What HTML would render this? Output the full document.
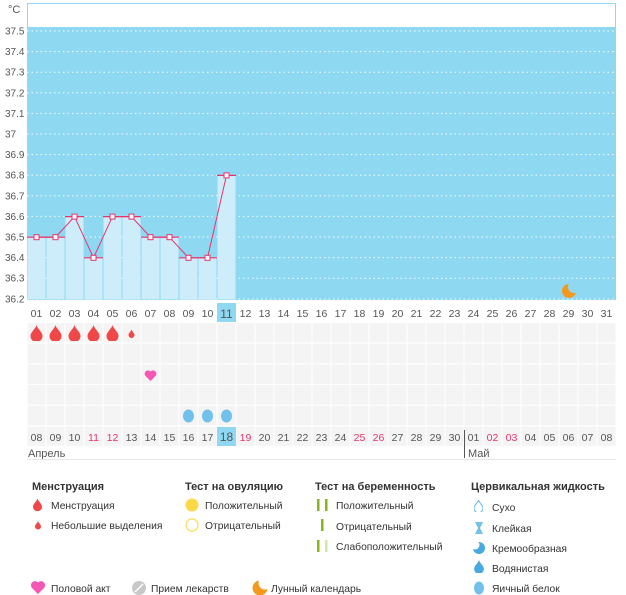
<!DOCTYPE html>
<html><head><meta charset="utf-8"><style>
body{margin:0;background:#fff;width:626px;height:595px;overflow:hidden}
svg{display:block;font-family:"Liberation Sans","DejaVu Sans",sans-serif}
.yl{font-size:10px;fill:#555}
.dl{font-size:10.5px;fill:#555;text-anchor:middle}
.r{fill:#e8336a}
.h{font-size:11px;font-weight:bold;fill:#333}
.t{font-size:10.3px;fill:#333}
</style></head><body>
<svg width="626" height="595" viewBox="0 0 626 595">
<defs>
<symbol id="drop" viewBox="-6 -8 12 16"><path d="M0,-8 C1,-4 6,-1 6,3 A6,6 0 0 1 -6,3 C-6,-1 -1,-4 0,-8Z"/></symbol>
<pattern id="cells" x="27" y="323" width="19" height="20.7" patternUnits="userSpaceOnUse"><rect x="0.5" y="0" width="18" height="19.5" fill="#f4f4f4"/></pattern>
</defs>
<rect x="27.5" y="3.5" width="588" height="24" fill="#fff" stroke="#8fd8f2"/>
<text x="8" y="13" class="yl" style="font-size:11px">°C</text>
<rect x="27" y="27" width="589" height="273" fill="#8fd8f2"/>
<g stroke="#fff" stroke-dasharray="1.5,3" stroke-width="1" opacity="0.9">
<line x1="27" x2="616" y1="31" y2="31"/><line x1="27" x2="616" y1="51.6" y2="51.6"/><line x1="27" x2="616" y1="72.2" y2="72.2"/><line x1="27" x2="616" y1="92.8" y2="92.8"/><line x1="27" x2="616" y1="113.4" y2="113.4"/><line x1="27" x2="616" y1="134" y2="134"/><line x1="27" x2="616" y1="154.6" y2="154.6"/><line x1="27" x2="616" y1="175.2" y2="175.2"/><line x1="27" x2="616" y1="195.8" y2="195.8"/><line x1="27" x2="616" y1="216.4" y2="216.4"/><line x1="27" x2="616" y1="237" y2="237"/><line x1="27" x2="616" y1="257.6" y2="257.6"/><line x1="27" x2="616" y1="278.2" y2="278.2"/><line x1="27" x2="616" y1="299" y2="299"/>
</g>
<g class="yl">
<text x="5" y="34.5">37.5</text><text x="5" y="55.1">37.4</text><text x="5" y="75.7">37.3</text><text x="5" y="96.3">37.2</text><text x="5" y="116.9">37.1</text><text x="5" y="137.5">37</text><text x="5" y="158.1">36.9</text><text x="5" y="178.7">36.8</text><text x="5" y="199.3">36.7</text><text x="5" y="219.9">36.6</text><text x="5" y="240.5">36.5</text><text x="5" y="261.1">36.4</text><text x="5" y="281.7">36.3</text><text x="5" y="302.5">36.2</text>
</g>
<g fill="#cdedfb">
<rect x="27.5" y="237.2" width="18" height="62"/><rect x="46.5" y="237.2" width="18" height="62"/><rect x="65.5" y="216.6" width="18" height="83"/><rect x="84.5" y="257.8" width="18" height="42"/><rect x="103.5" y="216.6" width="18" height="83"/><rect x="122.5" y="216.6" width="18" height="83"/><rect x="141.5" y="237.2" width="18" height="62"/><rect x="160.5" y="237.2" width="18" height="62"/><rect x="179.5" y="257.8" width="18" height="42"/><rect x="198.5" y="257.8" width="18" height="42"/><rect x="217.5" y="175.4" width="18" height="124"/>
</g>
<g stroke="#e8336a" stroke-width="1.2">
<line x1="27" x2="65" y1="237.2" y2="237.2"/><line x1="65" x2="84" y1="216.6" y2="216.6"/><line x1="84" x2="103" y1="257.8" y2="257.8"/><line x1="103" x2="141" y1="216.6" y2="216.6"/><line x1="141" x2="179" y1="237.2" y2="237.2"/><line x1="179" x2="217" y1="257.8" y2="257.8"/><line x1="217" x2="236" y1="175.4" y2="175.4"/>
</g>
<polyline fill="none" stroke="#e8336a" stroke-width="1" points="36.5,237.2 55.5,237.2 74.5,216.6 93.5,257.8 112.5,216.6 131.5,216.6 150.5,237.2 169.5,237.2 188.5,257.8 207.5,257.8 226.5,175.4"/>
<g fill="#fff" stroke="#e8336a" stroke-width="1">
<rect x="34" y="234.7" width="5" height="5"/><rect x="53" y="234.7" width="5" height="5"/><rect x="72" y="214.1" width="5" height="5"/><rect x="91" y="255.3" width="5" height="5"/><rect x="110" y="214.1" width="5" height="5"/><rect x="129" y="214.1" width="5" height="5"/><rect x="148" y="234.7" width="5" height="5"/><rect x="167" y="234.7" width="5" height="5"/><rect x="186" y="255.3" width="5" height="5"/><rect x="205" y="255.3" width="5" height="5"/><rect x="224" y="172.9" width="5" height="5"/>
</g>
<circle cx="569" cy="291" r="7" fill="#f39a1e"/><circle cx="574" cy="287" r="6" fill="#8fd8f2"/>
<rect x="217" y="303" width="19" height="19" fill="#8fd8f2"/>
<g class="dl">
<text x="36.5" y="317">01</text><text x="55.5" y="317">02</text><text x="74.5" y="317">03</text><text x="93.5" y="317">04</text><text x="112.5" y="317">05</text><text x="131.5" y="317">06</text><text x="150.5" y="317">07</text><text x="169.5" y="317">08</text><text x="188.5" y="317">09</text><text x="207.5" y="317">10</text><text x="226.5" y="318" style="font-size:12px">11</text><text x="245.5" y="317">12</text><text x="264.5" y="317">13</text><text x="283.5" y="317">14</text><text x="302.5" y="317">15</text><text x="321.5" y="317">16</text><text x="340.5" y="317">17</text><text x="359.5" y="317">18</text><text x="378.5" y="317">19</text><text x="397.5" y="317">20</text><text x="416.5" y="317">21</text><text x="435.5" y="317">22</text><text x="454.5" y="317">23</text><text x="473.5" y="317">24</text><text x="492.5" y="317">25</text><text x="511.5" y="317">26</text><text x="530.5" y="317">27</text><text x="549.5" y="317">28</text><text x="568.5" y="317">29</text><text x="587.5" y="317">30</text><text x="606.5" y="317">31</text>
</g>
<rect x="27" y="323" width="589" height="124" fill="url(#cells)"/>
<rect x="217" y="427" width="19" height="19" fill="#8fd8f2"/>
<g fill="#f04848">
<use href="#drop" x="30.5" y="325" width="12" height="16"/><use href="#drop" x="49.5" y="325" width="12" height="16"/><use href="#drop" x="68.5" y="325" width="12" height="16"/><use href="#drop" x="87.5" y="325" width="12" height="16"/><use href="#drop" x="106.5" y="325" width="12" height="16"/><use href="#drop" x="128.5" y="328" width="6" height="11"/>
</g>
<path d="M150.5,381 L145.5,376 A3,3 0 0 1 150.5,371.5 A3,3 0 0 1 155.5,376Z" fill="#f558b4"/>
<g fill="#72c0ec">
<ellipse cx="188.5" cy="416" rx="5.5" ry="6.5"/><ellipse cx="207.5" cy="416" rx="5.5" ry="6.5"/><ellipse cx="226.5" cy="416" rx="5.5" ry="6.5"/>
</g>
<g class="dl">
<text x="36.5" y="441">08</text><text x="55.5" y="441">09</text><text x="74.5" y="441">10</text><text x="93.5" y="441" class="r">11</text><text x="112.5" y="441" class="r">12</text><text x="131.5" y="441">13</text><text x="150.5" y="441">14</text><text x="169.5" y="441">15</text><text x="188.5" y="441">16</text><text x="207.5" y="441">17</text><text x="226.5" y="441" style="font-size:12px">18</text><text x="245.5" y="441" class="r">19</text><text x="264.5" y="441">20</text><text x="283.5" y="441">21</text><text x="302.5" y="441">22</text><text x="321.5" y="441">23</text><text x="340.5" y="441">24</text><text x="359.5" y="441" class="r">25</text><text x="378.5" y="441" class="r">26</text><text x="397.5" y="441">27</text><text x="416.5" y="441">28</text><text x="435.5" y="441">29</text><text x="454.5" y="441">30</text><text x="473.5" y="441">01</text><text x="492.5" y="441" class="r">02</text><text x="511.5" y="441" class="r">03</text><text x="530.5" y="441">04</text><text x="549.5" y="441">05</text><text x="568.5" y="441">06</text><text x="587.5" y="441">07</text><text x="606.5" y="441">08</text>
</g>
<line x1="464.5" x2="464.5" y1="430" y2="458" stroke="#555"/>
<text x="28" y="457" class="yl" style="font-size:11px">Апрель</text>
<text x="468" y="457" class="yl" style="font-size:11px">Май</text>
<line x1="27" x2="616" y1="459.5" y2="459.5" stroke="#e6e6e6"/>
<text x="32" y="490" class="h">Менструация</text>
<use href="#drop" x="33" y="498" width="9" height="13" fill="#f04848"/>
<text x="51" y="509" class="t">Менструация</text>
<use href="#drop" x="35" y="520" width="6" height="10" fill="#f04848"/>
<text x="51" y="529" class="t">Небольшие выделения</text>
<text x="185" y="490" class="h">Тест на овуляцию</text>
<circle cx="192" cy="505" r="6.5" fill="#fdd94a"/>
<text x="205" y="509" class="t">Положительный</text>
<circle cx="192" cy="525" r="6" fill="#fff" stroke="#fdd94a" stroke-width="1.2"/>
<text x="205" y="529" class="t">Отрицательный</text>
<text x="315" y="490" class="h">Тест на беременность</text>
<rect x="317" y="499" width="2.5" height="12" fill="#86b51c"/><rect x="325" y="499" width="2.5" height="12" fill="#86b51c"/>
<text x="336" y="509" class="t">Положительный</text>
<rect x="321" y="519" width="2.5" height="12" fill="#86b51c"/>
<text x="336" y="530" class="t">Отрицательный</text>
<rect x="317" y="540" width="2.5" height="12" fill="#86b51c"/><rect x="325" y="540" width="2.5" height="12" fill="#d3e7a8"/>
<text x="336" y="550" class="t">Слабоположительный</text>
<text x="471" y="490" class="h">Цервикальная жидкость</text>
<use href="#drop" x="474" y="500" width="9" height="12" fill="#fff" stroke="#72c0ec" stroke-width="1.5"/>
<text x="492" y="511" class="t">Сухо</text>
<path d="M475,522 h8 l-3,6 l3,6 h-8 l3,-6z" fill="#72c0ec"/>
<text x="492" y="532" class="t">Клейкая</text>
<circle cx="479" cy="548" r="6" fill="#4aa8e0"/><circle cx="475" cy="545" r="4.5" fill="#fff"/>
<text x="492" y="552" class="t">Кремообразная</text>
<use href="#drop" x="474" y="560" width="10" height="13" fill="#4aa8e0"/>
<text x="492" y="572" class="t">Водянистая</text>
<ellipse cx="479" cy="588" rx="5" ry="6.5" fill="#72c0ec"/>
<text x="492" y="592" class="t">Яичный белок</text>
<path d="M38,594 L32,588 A3.5,3.5 0 0 1 38,582.5 A3.5,3.5 0 0 1 44,588Z" fill="#f558b4"/>
<text x="51" y="592" class="t">Половой акт</text>
<circle cx="139" cy="588" r="7" fill="#c8c8c8"/><line x1="135" y1="592" x2="143" y2="584" stroke="#fff" stroke-width="1.5"/>
<text x="151" y="592" class="t">Прием лекарств</text>
<circle cx="260" cy="588" r="7.5" fill="#f39a1e"/><circle cx="265" cy="583" r="6.5" fill="#fff"/>
<text x="271" y="592" class="t">Лунный календарь</text>
</svg>
</body></html>
